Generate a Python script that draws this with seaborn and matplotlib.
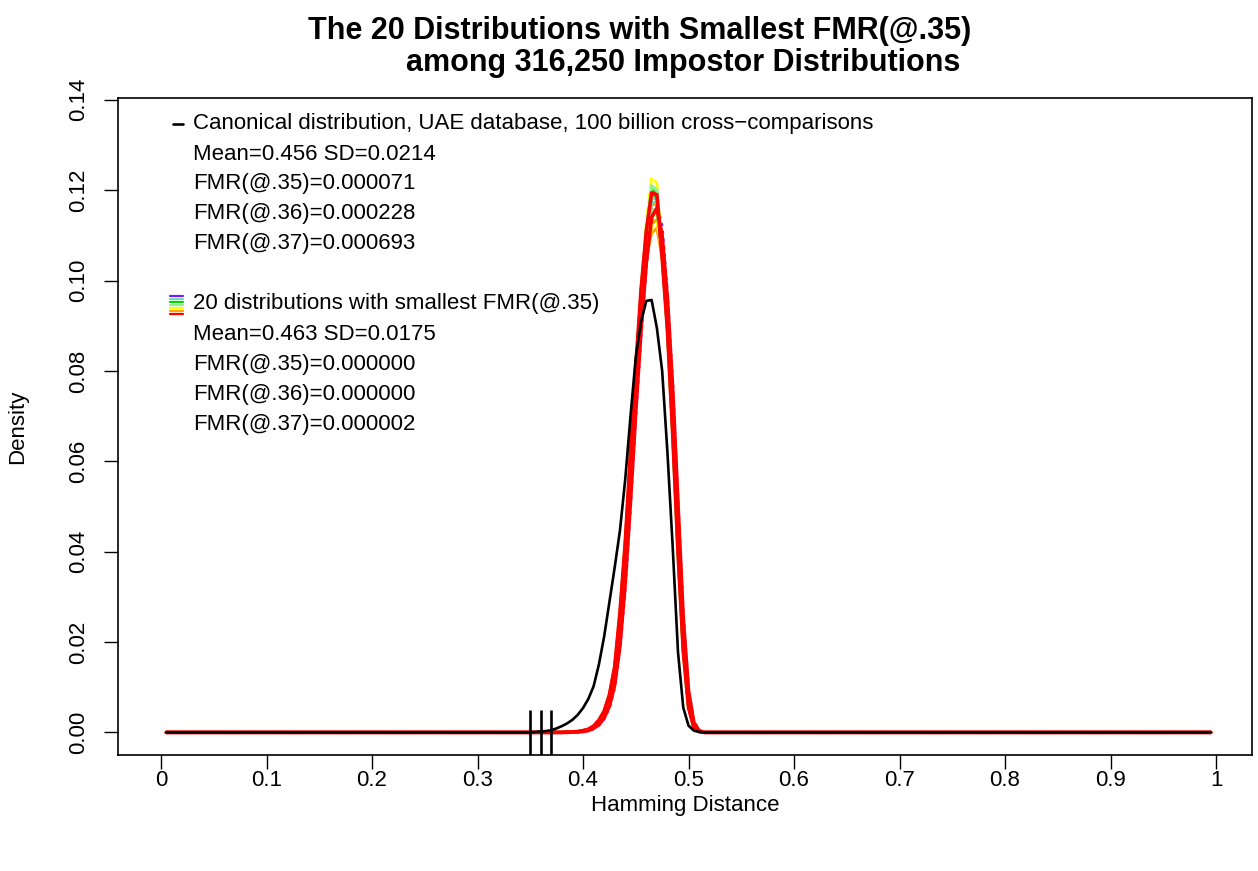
import numpy as np
import pandas as pd
import seaborn as sns
import matplotlib.pyplot as plt
from matplotlib.lines import Line2D

# Bin centres of the Hamming distance histograms (0.005 .. 0.995)
hd_grid = np.round(np.arange(1, 200) * 0.005, 3)

# Canonical distribution (non-zero bins 0.355 .. 0.515)
canon_x = np.round(np.arange(71, 104) * 0.005, 3)
canon_y = [0.0001, 0.0002, 0.0003, 0.0005, 0.0009, 0.0014, 0.0020, 0.0028, 0.0039, 0.0054,
           0.0074, 0.0102, 0.0150, 0.0212, 0.0288, 0.0365, 0.0447, 0.0560, 0.0700, 0.0830,
           0.0910, 0.0955, 0.0957, 0.0895, 0.0800, 0.0620, 0.0410, 0.0178, 0.0055, 0.0015,
           0.0004, 0.0001, 0.0000]

# 20 distributions with smallest FMR(@.35) (non-zero bins 0.385 .. 0.515)
top20_x = np.round(np.arange(77, 104) * 0.005, 3)
top20_y = [
    [0.0000, 0.0001, 0.0001, 0.0002, 0.0004, 0.0008, 0.0016, 0.0030, 0.0055, 0.0100, 0.0185, 0.0320, 0.0500, 0.0700, 0.0880, 0.1030, 0.1130, 0.1170, 0.1120, 0.0970, 0.0770, 0.0510, 0.0260, 0.0095, 0.0024, 0.0004, 0.0000],
    [0.0001, 0.0001, 0.0002, 0.0003, 0.0006, 0.0012, 0.0024, 0.0044, 0.0078, 0.0140, 0.0255, 0.0410, 0.0605, 0.0800, 0.0975, 0.1110, 0.1205, 0.1200, 0.1060, 0.0890, 0.0660, 0.0395, 0.0180, 0.0056, 0.0012, 0.0002, 0.0000],
    [0.0001, 0.0001, 0.0002, 0.0003, 0.0006, 0.0012, 0.0023, 0.0042, 0.0075, 0.0135, 0.0245, 0.0395, 0.0590, 0.0785, 0.0960, 0.1095, 0.1180, 0.1190, 0.1075, 0.0910, 0.0690, 0.0420, 0.0195, 0.0062, 0.0013, 0.0002, 0.0000],
    [0.0001, 0.0001, 0.0002, 0.0004, 0.0007, 0.0013, 0.0026, 0.0046, 0.0081, 0.0143, 0.0260, 0.0415, 0.0612, 0.0805, 0.0978, 0.1112, 0.1208, 0.1195, 0.1052, 0.0885, 0.0655, 0.0395, 0.0178, 0.0054, 0.0011, 0.0002, 0.0000],
    [0.0001, 0.0001, 0.0002, 0.0003, 0.0006, 0.0011, 0.0022, 0.0040, 0.0073, 0.0132, 0.0240, 0.0392, 0.0592, 0.0795, 0.0980, 0.1125, 0.1230, 0.1215, 0.1065, 0.0890, 0.0655, 0.0390, 0.0175, 0.0053, 0.0011, 0.0002, 0.0000],
    [0.0001, 0.0001, 0.0002, 0.0003, 0.0006, 0.0012, 0.0024, 0.0043, 0.0076, 0.0135, 0.0240, 0.0385, 0.0570, 0.0760, 0.0925, 0.1050, 0.1105, 0.1116, 0.1050, 0.0930, 0.0740, 0.0480, 0.0235, 0.0080, 0.0018, 0.0003, 0.0000],
    [0.0000, 0.0001, 0.0001, 0.0003, 0.0005, 0.0010, 0.0019, 0.0035, 0.0063, 0.0112, 0.0205, 0.0345, 0.0530, 0.0725, 0.0900, 0.1040, 0.1125, 0.1135, 0.1080, 0.0950, 0.0750, 0.0495, 0.0245, 0.0088, 0.0021, 0.0004, 0.0000],
    [0.0001, 0.0001, 0.0002, 0.0004, 0.0007, 0.0013, 0.0025, 0.0045, 0.0080, 0.0142, 0.0255, 0.0408, 0.0600, 0.0790, 0.0955, 0.1085, 0.1165, 0.1170, 0.1065, 0.0905, 0.0680, 0.0415, 0.0192, 0.0060, 0.0013, 0.0002, 0.0000],
    [0.0001, 0.0001, 0.0002, 0.0004, 0.0007, 0.0014, 0.0026, 0.0046, 0.0082, 0.0144, 0.0262, 0.0416, 0.0612, 0.0800, 0.0970, 0.1100, 0.1185, 0.1180, 0.1055, 0.0895, 0.0668, 0.0405, 0.0185, 0.0057, 0.0012, 0.0002, 0.0000],
    [0.0001, 0.0001, 0.0002, 0.0004, 0.0007, 0.0013, 0.0025, 0.0044, 0.0079, 0.0140, 0.0250, 0.0400, 0.0590, 0.0780, 0.0945, 0.1075, 0.1150, 0.1155, 0.1070, 0.0915, 0.0695, 0.0428, 0.0200, 0.0064, 0.0014, 0.0002, 0.0000],
    [0.0001, 0.0001, 0.0002, 0.0003, 0.0006, 0.0012, 0.0023, 0.0042, 0.0075, 0.0134, 0.0242, 0.0390, 0.0582, 0.0775, 0.0945, 0.1080, 0.1155, 0.1160, 0.1075, 0.0920, 0.0700, 0.0432, 0.0203, 0.0066, 0.0014, 0.0002, 0.0000],
    [0.0001, 0.0001, 0.0002, 0.0003, 0.0006, 0.0012, 0.0023, 0.0042, 0.0074, 0.0132, 0.0236, 0.0380, 0.0565, 0.0755, 0.0920, 0.1050, 0.1120, 0.1130, 0.1065, 0.0935, 0.0735, 0.0470, 0.0228, 0.0077, 0.0017, 0.0003, 0.0000],
    [0.0001, 0.0001, 0.0002, 0.0004, 0.0007, 0.0014, 0.0027, 0.0048, 0.0085, 0.0148, 0.0268, 0.0422, 0.0618, 0.0805, 0.0970, 0.1095, 0.1168, 0.1170, 0.1050, 0.0895, 0.0668, 0.0408, 0.0186, 0.0057, 0.0012, 0.0002, 0.0000],
    [0.0000, 0.0001, 0.0001, 0.0002, 0.0004, 0.0009, 0.0017, 0.0032, 0.0058, 0.0105, 0.0192, 0.0330, 0.0512, 0.0710, 0.0890, 0.1040, 0.1140, 0.1160, 0.1100, 0.0960, 0.0760, 0.0505, 0.0252, 0.0092, 0.0022, 0.0004, 0.0000],
    [0.0001, 0.0001, 0.0002, 0.0003, 0.0006, 0.0012, 0.0024, 0.0043, 0.0077, 0.0138, 0.0250, 0.0404, 0.0600, 0.0795, 0.0970, 0.1105, 0.1190, 0.1188, 0.1062, 0.0898, 0.0670, 0.0405, 0.0186, 0.0058, 0.0012, 0.0002, 0.0000],
    [0.0001, 0.0001, 0.0002, 0.0004, 0.0007, 0.0013, 0.0025, 0.0045, 0.0080, 0.0141, 0.0256, 0.0408, 0.0602, 0.0792, 0.0960, 0.1092, 0.1172, 0.1175, 0.1062, 0.0902, 0.0675, 0.0412, 0.0190, 0.0059, 0.0013, 0.0002, 0.0000],
    [0.0001, 0.0001, 0.0002, 0.0003, 0.0006, 0.0012, 0.0024, 0.0044, 0.0079, 0.0141, 0.0256, 0.0410, 0.0606, 0.0800, 0.0975, 0.1108, 0.1200, 0.1192, 0.1058, 0.0890, 0.0662, 0.0400, 0.0182, 0.0056, 0.0012, 0.0002, 0.0000],
    [0.0001, 0.0001, 0.0002, 0.0003, 0.0006, 0.0011, 0.0022, 0.0041, 0.0074, 0.0134, 0.0244, 0.0396, 0.0594, 0.0792, 0.0970, 0.1110, 0.1210, 0.1200, 0.1062, 0.0892, 0.0660, 0.0396, 0.0180, 0.0055, 0.0011, 0.0002, 0.0000],
    [0.0001, 0.0001, 0.0002, 0.0003, 0.0006, 0.0012, 0.0023, 0.0042, 0.0075, 0.0134, 0.0240, 0.0388, 0.0575, 0.0768, 0.0935, 0.1065, 0.1140, 0.1150, 0.1075, 0.0930, 0.0722, 0.0458, 0.0220, 0.0073, 0.0016, 0.0003, 0.0000],
    [0.0001, 0.0001, 0.0002, 0.0004, 0.0007, 0.0014, 0.0027, 0.0047, 0.0083, 0.0145, 0.0265, 0.0420, 0.0620, 0.0810, 0.0980, 0.1110, 0.1194, 0.1190, 0.1050, 0.0890, 0.0660, 0.0400, 0.0180, 0.0055, 0.0011, 0.0002, 0.0000],
]

palette7 = ["#7B1CF5", "#6EDDB8", "#00D400", "#90EE90", "#FFFF00", "#FFA500", "#FF0000"]
top20_colors = palette7 * 2 + palette7[:6]
top20_colors[-1] = "#FF0000"
top20_colors[6] = "#FFA500"

thresholds = [0.35, 0.36, 0.37]
xtick_vals = [0, 0.1, 0.2, 0.3, 0.4, 0.5, 0.6, 0.7, 0.8, 0.9, 1]
xtick_labels = ["0", "0.1", "0.2", "0.3", "0.4", "0.5", "0.6", "0.7", "0.8", "0.9", "1"]
ytick_vals = [0, 0.02, 0.04, 0.06, 0.08, 0.10, 0.12, 0.14]

canon_text = ["Canonical distribution, UAE database, 100 billion cross\u2212comparisons",
              "Mean=0.456 SD=0.0214", "FMR(@.35)=0.000071", "FMR(@.36)=0.000228", "FMR(@.37)=0.000693"]
top20_text = ["20 distributions with smallest FMR(@.35)",
              "Mean=0.463 SD=0.0175", "FMR(@.35)=0.000000", "FMR(@.36)=0.000000", "FMR(@.37)=0.000002"]

sns.set_theme(style="ticks")
plt.rcParams['font.family'] = ['Liberation Sans', 'DejaVu Sans']
plt.rcParams['text.color'] = 'black'

W, H = 1258, 871
x0, x1, y0, y1 = 118, 1252, 98, 755   # plot frame in pixels
fig = plt.figure(figsize=(W / 100, H / 100), dpi=100)
ax = fig.add_axes([x0 / W, 1 - y1 / H, (x1 - x0) / W, (y1 - y0) / H])


def full_curve(xs, ys):
    return pd.Series(ys, index=xs).reindex(hd_grid, fill_value=0.0).values


# 20 coloured curves, red ones drawn above the rest
for ys, col in zip(top20_y, top20_colors):
    ls = ':' if col == "#7B1CF5" else ('--' if col == "#FFFF00" else '-')
    is_red = col == "#FF0000"
    sns.lineplot(x=hd_grid, y=full_curve(top20_x, ys), ax=ax, color=col,
                 linewidth=2.6 if is_red else 2.1, linestyle=ls, zorder=3 if is_red else 2)

# canonical distribution on top
sns.lineplot(x=hd_grid, y=full_curve(canon_x, canon_y), ax=ax, color='black',
             linewidth=1.9, zorder=4)

ax.vlines(thresholds, -0.01, 0.005, color='black', linewidth=1.9, zorder=5)

ax.set_xlim(-0.0408, 1.0341)
ax.set_ylim(-0.005, 0.1404)
ax.set_xticks(xtick_vals)
ax.set_xticklabels(xtick_labels)
ax.set_yticks(ytick_vals)
ax.set_yticklabels([f"{v:.2f}" for v in ytick_vals], rotation=90, va='center')
ax.tick_params(axis='both', direction='out', length=10, width=1, color='black',
               labelsize=16, labelcolor='black')
ax.tick_params(axis='x', pad=1)
ax.tick_params(axis='y', pad=11)
for sp in ax.spines.values():
    sp.set_visible(True)
    sp.set_color('black')
    sp.set_linewidth(1.2)

ax.set_xlabel("Hamming Distance", fontsize=16, color='black')
ax.set_ylabel("Density", fontsize=16, color='black')
ax.xaxis.set_label_coords(0.5, (y1 - 795) / (y1 - y0))
ax.yaxis.set_label_coords((28 - x0) / (x1 - x0), 0.5)

# legend block
tx = (193 - x0) / (x1 - x0)


def ay(py):
    return (y1 - py) / (y1 - y0)


for k, s in enumerate(canon_text):
    ax.text(tx, ay(124 + 30 * k), s, transform=ax.transAxes, fontsize=16,
            va='center', ha='left', color='black')
for k, s in enumerate(top20_text):
    ax.text(tx, ay(304 + 30 * k), s, transform=ax.transAxes, fontsize=16,
            va='center', ha='left', color='black')

ax.add_line(Line2D([(173 - x0) / (x1 - x0), (183 - x0) / (x1 - x0)], [ay(124), ay(124)],
                   transform=ax.transAxes, color='black', linewidth=1.9))
for j, col in enumerate(palette7):
    ax.add_line(Line2D([(170 - x0) / (x1 - x0), (183 - x0) / (x1 - x0)],
                       [ay(296 + 3 * j), ay(296 + 3 * j)],
                       transform=ax.transAxes, color=col, linewidth=1.6))

fig.text(640 / W, 1 - 31 / H, "The 20 Distributions with Smallest FMR(@.35)",
         ha='center', va='center', fontsize=22, fontweight='bold', color='black')
fig.text(683 / W, 1 - 63 / H, "among 316,250 Impostor Distributions",
         ha='center', va='center', fontsize=22, fontweight='bold', color='black')

fig.savefig("out.png", dpi=100)
